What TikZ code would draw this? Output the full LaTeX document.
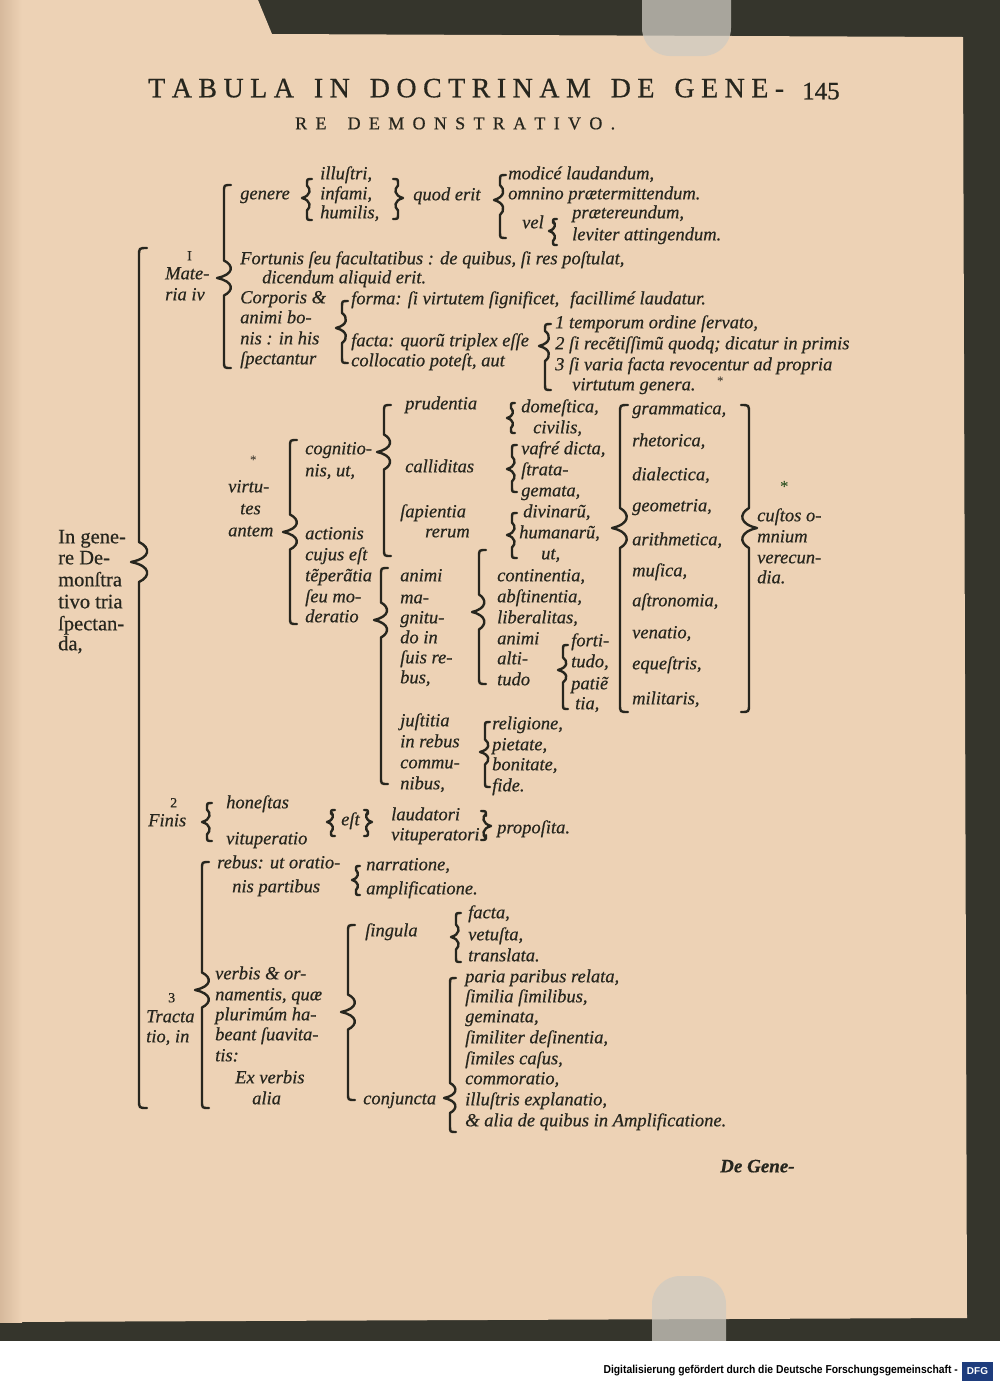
\documentclass[tikz,border=0pt]{standalone}
\usepackage{fontspec}
\usepackage{graphicx}
\setmainfont{Liberation Serif}
\setsansfont{Liberation Sans}
\newfontfamily\inkfam{Liberation Serif}[FakeBold=0.5]
\definecolor{ink}{HTML}{27261E}
\definecolor{paper}{HTML}{EDD2B5}
\definecolor{paperdark}{HTML}{D6B99C}
\definecolor{bed}{HTML}{35352C}
\definecolor{clipc}{HTML}{CFCBC2}
\definecolor{dfgblue}{HTML}{1E3C7C}
\newcommand\bodyfont{\inkfam\fontsize{18.5}{20}\selectfont\itshape}
\newcommand\romfont{\inkfam\fontsize{20.5}{22}\selectfont}
\makeatletter
\newcommand\spreadtxt[2]{\makebox[#1][s]{\@tfor\sp@c:=#2\do{\sp@c\hfil}\unskip}}
\makeatother
% left brace: x, top, mid, bottom, amplitude, bulge
\newcommand\brL[6]{\draw[brc] ({#1+#5},#2) .. controls (#1,#2) .. (#1,{#2+#5}) -- (#1,{#3-2.5*#5}) .. controls ({#1+#6},{#3-1.8*#5}) and ({#1+#6},{#3-0.5*#5}) .. ({#1-#5},#3) .. controls ({#1+#6},{#3+0.5*#5}) and ({#1+#6},{#3+1.8*#5}) .. (#1,{#3+2.5*#5}) -- (#1,{#4-#5}) .. controls (#1,#4) .. ({#1+#5},#4);}
\newcommand\brR[6]{\draw[brc] ({#1-#5},#2) .. controls (#1,#2) .. (#1,{#2+#5}) -- (#1,{#3-2.5*#5}) .. controls ({#1-#6},{#3-1.8*#5}) and ({#1-#6},{#3-0.5*#5}) .. ({#1+#5},#3) .. controls ({#1-#6},{#3+0.5*#5}) and ({#1-#6},{#3+1.8*#5}) .. (#1,{#3+2.5*#5}) -- (#1,{#4-#5}) .. controls (#1,#4) .. ({#1-#5},#4);}
\begin{document}
\begin{tikzpicture}[x=1pt,y=-1pt,
  t/.style={anchor=mid west,inner sep=0pt,font=\bodyfont,text=ink},
  r/.style={anchor=mid west,inner sep=0pt,font=\romfont,text=ink},
  brc/.style={draw=ink,line width=2.4pt,line cap=round,line join=round}]
\useasboundingbox (0,0) rectangle (1000,1382);
% scanner bed and page
\fill[bed] (0,0) rectangle (1000,1382);
\fill[paper] (0,0) -- (258,0) -- (272,34) -- (963,37) -- (967,1318) -- (0,1322) -- cycle;
\shade[left color=paperdark,right color=paper] (0,0) rectangle (22,1322);
% clips
\fill[clipc,opacity=0.75,rounded corners=28pt] (642,-40) rectangle (731,56);
\fill[clipc,opacity=0.75,rounded corners=28pt] (652,1276) rectangle (726,1380);
% footer band
\fill[white] (0,1341) rectangle (1000,1382);
\node[anchor=mid east,inner sep=0pt,font=\sffamily\bfseries\fontsize{11.5}{12}\selectfont] (foot) at (958,1371) {\scalebox{0.90}[1]{Digitalisierung gefördert durch die Deutsche Forschungsgemeinschaft -}};
\fill[dfgblue] (962,1362) rectangle (993,1381);
\node[inner sep=0pt,font=\sffamily\bfseries\fontsize{10}{10}\selectfont,text=white] (dfg) at (977.5,1371.5) {DFG};
% title
\node[anchor=mid west,inner sep=0pt,font=\inkfam\fontsize{28}{28}\selectfont,text=ink] (title) at (148,95) {\spreadtxt{636pt}{TABULA~IN~DOCTRINAM~DE~GENE-}};
\node[anchor=mid west,inner sep=0pt,font=\inkfam\fontsize{25}{25}\selectfont,text=ink] (page) at (802,97) {145};
\node[anchor=mid west,inner sep=0pt,font=\inkfam\fontsize{18}{18}\selectfont,text=ink] (title2) at (295,127) {\spreadtxt{320pt}{RE~DEMONSTRATIVO.}};
% root
\node[r] (g1) at (58,541) {In gene-};
\node[r] (g2) at (58,562) {re De-};
\node[r] (g3) at (58,584) {monſtra};
\node[r] (g4) at (58,606) {tivo tria};
\node[r] (g5) at (58,628) {ſpectan-};
\node[r] (g6) at (58,648) {da,};
\brL{139}{248}{562}{1108}{8}{12}
% 1 Materia
\node[r,font=\inkfam\fontsize{14}{14}\selectfont] (n1) at (187,258) {I};
\node[t] (m1) at (165,277) {Mate-};
\node[t] (m2) at (165,298) {ria iv};
\brL{224}{185}{278}{368}{7}{10}
\node[t] (gen) at (240,197) {genere};
\brL{307}{179}{198}{220}{5}{4}
\node[t] (ill) at (320,177) {illuſtri,};
\node[t] (inf) at (320,197) {infami,};
\node[t] (hum) at (320,216) {humilis,};
\brR{398}{179}{198}{219}{5}{4}
\node[t] (quod) at (413,198) {quod erit};
\brL{500}{175}{200}{238}{6}{5}
\node[t] (mod) at (508,177) {modicé laudandum,};
\node[t] (omn) at (508,197) {omnino prætermittendum.};
\node[t] (vel) at (522,226) {vel};
\brL{553}{219}{231}{245}{4}{3}
\node[t] (prae) at (572,216) {prætereundum,};
\node[t] (lev) at (572,238) {leviter attingendum.};
\node[t] (fort1) at (240,262) {Fortunis ſeu facultatibus : de quibus, ſi res poſtulat,};
\node[t] (fort2) at (262,281) {dicendum aliquid erit.};
\node[t] (cor1) at (240,301) {Corporis \&};
\node[t] (cor2) at (240,321) {animi bo-};
\node[t] (cor3) at (240,342) {nis : in his};
\node[t] (cor4) at (240,362) {ſpectantur};
\brL{342}{301}{328}{363}{6}{6}
\node[t] (forma) at (351,302) {forma: ſi virtutem ſignificet,};
\node[t] (forma2) at (570,302) {facillimé laudatur.};
\node[t] (fac1) at (351,344) {facta: quorũ triplex eſſe};
\node[t] (fac2) at (351,364) {collocatio poteſt, aut};
\brL{545}{324}{346}{390}{6}{6}
\node[t] (tr1) at (555,326) {1 temporum ordine ſervato,};
\node[t] (tr2) at (555,347) {2 ſi recẽtiſſimũ quodq; dicatur in primis};
\node[t] (tr3) at (555,368) {3 ſi varia facta revocentur ad propria};
\node[t] (tr4) at (572,388) {virtutum genera.};
\node[t,font=\fontsize{13}{13}\selectfont] (st1) at (717,383) {*};
% virtutes
\node[t,font=\fontsize{13}{13}\selectfont] (st2) at (250,462) {*};
\node[t] (v1) at (228,490) {virtu-};
\node[t] (v2) at (240,512) {tes};
\node[t] (v3) at (228,534) {antem};
\brL{290}{440}{532}{624}{7}{10}
\node[t] (cg1) at (305,452) {cognitio-};
\node[t] (cg2) at (305,474) {nis, ut,};
\node[t] (ac1) at (305,537) {actionis};
\node[t] (ac2) at (305,558) {cujus eſt};
\node[t] (ac3) at (305,579) {tẽperãtia};
\node[t] (ac4) at (305,600) {ſeu mo-};
\node[t] (ac5) at (305,620) {deratio};
\brL{384}{405}{452}{556}{7}{9}
\node[t] (pru) at (405,407) {prudentia};
\node[t] (cal) at (405,470) {calliditas};
\node[t] (sap1) at (400,515) {ſapientia};
\node[t] (sap2) at (425,535) {rerum};
\brL{511}{403}{418}{433}{4}{3}
\node[t] (dom) at (521,410) {domeſtica,};
\node[t] (civ) at (533,431) {civilis,};
\brL{512}{445}{469}{492}{5}{4}
\node[t] (vaf) at (521,452) {vafré dicta,};
\node[t] (str1) at (521,473) {ſtrata-};
\node[t] (str2) at (521,494) {gemata,};
\brL{512}{513}{535}{558}{5}{4}
\node[t] (div) at (523,515) {divinarũ,};
\node[t] (hmn) at (519,536) {humanarũ,};
\node[t] (ut) at (541,557) {ut,};
\brL{620}{405}{528}{712}{8}{10}
\brR{749}{405}{528}{712}{8}{10}
\node[t] (ar1) at (632,412) {grammatica,};
\node[t] (ar2) at (632,444) {rhetorica,};
\node[t] (ar3) at (632,478) {dialectica,};
\node[t] (ar4) at (632,509) {geometria,};
\node[t] (ar5) at (632,543) {arithmetica,};
\node[t] (ar6) at (632,574) {muſica,};
\node[t] (ar7) at (632,604) {aſtronomia,};
\node[t] (ar8) at (632,636) {venatio,};
\node[t] (ar9) at (632,667) {equeſtris,};
\node[t] (ar10) at (632,702) {militaris,};
\node[t,font=\fontsize{17}{17}\selectfont,text=ink!70!green!60!black] (st3) at (780,490) {*};
\node[t] (cu1) at (757,519) {cuſtos o-};
\node[t] (cu2) at (757,540) {mnium};
\node[t] (cu3) at (757,561) {verecun-};
\node[t] (cu4) at (757,581) {dia.};
\brL{381}{568}{620}{784}{7}{9}
\node[t] (am1) at (400,579) {animi};
\node[t] (am2) at (400,601) {ma-};
\node[t] (am3) at (400,621) {gnitu-};
\node[t] (am4) at (400,641) {do in};
\node[t] (am5) at (400,661) {ſuis re-};
\node[t] (am6) at (400,681) {bus,};
\brL{479}{550}{612}{684}{7}{8}
\node[t] (co1) at (497,579) {continentia,};
\node[t] (co2) at (497,600) {abſtinentia,};
\node[t] (co3) at (497,621) {liberalitas,};
\node[t] (co4) at (497,642) {animi};
\node[t] (co5) at (497,662) {alti-};
\node[t] (co6) at (497,683) {tudo};
\brL{563}{645}{670}{709}{5}{5}
\node[t] (fo1) at (571,644) {forti-};
\node[t] (fo2) at (571,665) {tudo,};
\node[t] (fo3) at (571,687) {patiẽ};
\node[t] (fo4) at (575,707) {tia,};
\node[t] (ju1) at (400,724) {juſtitia};
\node[t] (ju2) at (400,745) {in rebus};
\node[t] (ju3) at (400,766) {commu-};
\node[t] (ju4) at (400,787) {nibus,};
\brL{485}{722}{752}{787}{5}{5}
\node[t] (re1) at (492,727) {religione,};
\node[t] (re2) at (492,748) {pietate,};
\node[t] (re3) at (492,768) {bonitate,};
\node[t] (re4) at (492,789) {fide.};
% 2 Finis
\node[r,font=\inkfam\fontsize{14}{14}\selectfont] (n2) at (170,805) {2};
\node[t] (fin) at (148,824) {Finis};
\brL{207}{803}{822}{841}{5}{4}
\node[t] (hon) at (226,806) {honeſtas};
\node[t] (vit) at (226,842) {vituperatio};
\brL{331}{810}{822}{836}{4}{3}
\node[t] (est) at (341,823) {eſt};
\brR{368}{810}{822}{836}{4}{3}
\node[t] (lau) at (391,818) {laudatori};
\node[t] (vitr) at (391,838) {vituperatori};
\brR{486}{811}{826}{840}{5}{4}
\node[t] (prop) at (497,831) {propoſita.};
% 3 Tractatio
\node[r,font=\inkfam\fontsize{14}{14}\selectfont] (n3) at (168,1000) {3};
\node[t] (tc1) at (146,1020) {Tracta};
\node[t] (tc2) at (146,1040) {tio, in};
\brL{202}{862}{990}{1108}{7}{10}
\node[t] (rb1) at (217,866) {rebus: ut oratio-};
\node[t] (rb2) at (232,890) {nis partibus};
\brL{356}{866}{880}{895}{4}{3}
\node[t] (nar) at (366,868) {narratione,};
\node[t] (amp) at (366,892) {amplificatione.};
\node[t] (vb1) at (215,977) {verbis \& or-};
\node[t] (vb2) at (215,998) {namentis, quæ};
\node[t] (vb3) at (215,1018) {plurimúm ha-};
\node[t] (vb4) at (215,1038) {beant ſuavita-};
\node[t] (vb5) at (215,1059) {tis:};
\node[t] (vb6) at (235,1081) {Ex verbis};
\node[t] (vb7) at (252,1102) {alia};
\brL{348}{925}{1012}{1100}{7}{10}
\node[t] (sing) at (365,934) {ſingula};
\node[t] (conj) at (363,1102) {conjuncta};
\brL{456}{913}{937}{962}{5}{4}
\node[t] (fa1) at (468,916) {facta,};
\node[t] (fa2) at (468,938) {vetuſta,};
\node[t] (fa3) at (468,959) {translata.};
\brL{450}{978}{1098}{1132}{6}{8}
\node[t] (pa1) at (465,980) {paria paribus relata,};
\node[t] (pa2) at (465,1000) {ſimilia ſimilibus,};
\node[t] (pa3) at (465,1020) {geminata,};
\node[t] (pa4) at (465,1041) {ſimiliter deſinentia,};
\node[t] (pa5) at (465,1062) {ſimiles caſus,};
\node[t] (pa6) at (465,1082) {commoratio,};
\node[t] (pa7) at (465,1103) {illuſtris explanatio,};
\node[t] (pa8) at (465,1124) {\& alia de quibus in Amplificatione.};
% catchword
\node[t,font=\inkfam\fontsize{19}{19}\selectfont\bfseries\itshape] (catch) at (720,1170) {De Gene-};
\end{tikzpicture}
\end{document}
